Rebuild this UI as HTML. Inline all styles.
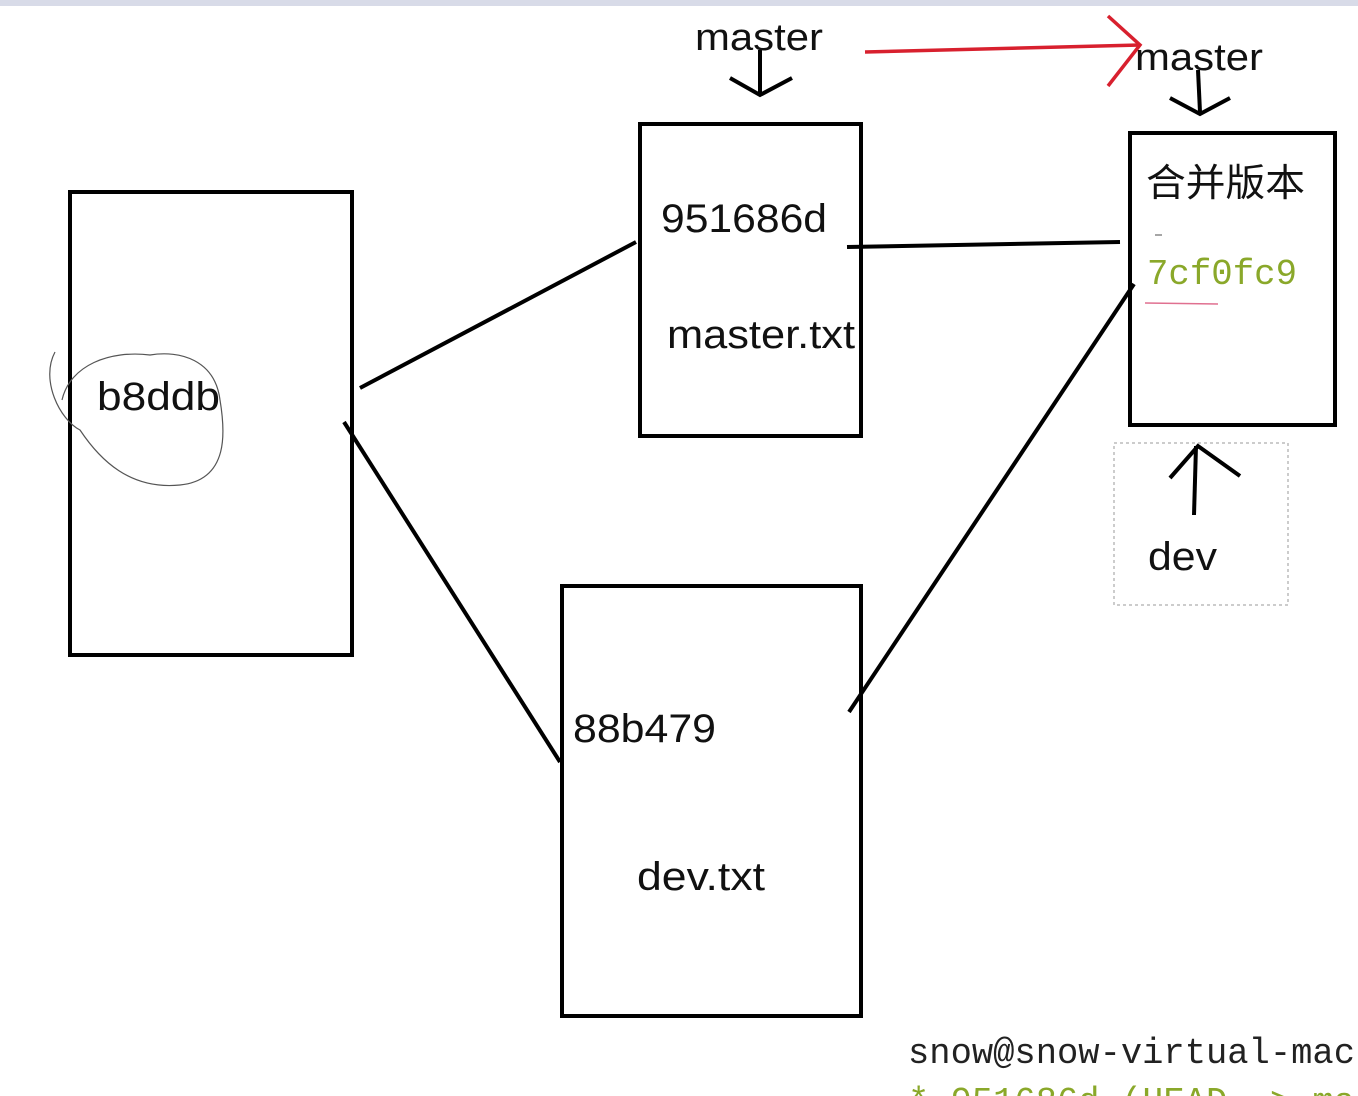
<!DOCTYPE html>
<html><head><meta charset="utf-8"><style>
html,body{margin:0;padding:0;background:#fff;width:1358px;height:1096px;overflow:hidden}
svg{display:block}
text{font-family:"Liberation Sans","Noto Sans CJK SC",sans-serif;fill:#111}
.m{font-family:"Liberation Mono","DejaVu Sans Mono",monospace}
</style></head><body>
<svg width="1358" height="1096" viewBox="0 0 1358 1096">
<rect x="0" y="0" width="1358" height="6" fill="#d8dbe8"/>
<g fill="none" stroke="#000" stroke-width="4">
<rect x="70" y="192" width="282" height="463"/>
<rect x="640" y="124" width="221" height="312"/>
<rect x="562" y="586" width="299" height="430"/>
<rect x="1130" y="133" width="205" height="292"/>
<line x1="360" y1="388" x2="636" y2="242"/>
<line x1="344" y1="422" x2="560" y2="762"/>
<line x1="847" y1="247" x2="1120" y2="242"/>
<line x1="849" y1="712" x2="1134" y2="284"/>
<line x1="760" y1="50" x2="760" y2="95"/>
<polyline points="730,78 760,95 792,78"/>
<line x1="1198" y1="70" x2="1200" y2="112"/>
<polyline points="1170,98 1200,114 1230,98"/>
<line x1="1194" y1="515" x2="1196" y2="446"/>
<polyline points="1170,478 1198,446 1240,476"/>
</g>
<g fill="none" stroke="#d8202e" stroke-width="3.5">
<line x1="865" y1="52" x2="1140" y2="45"/>
<polyline points="1108,16 1140,45 1108,86"/>
</g>
<path d="M55,352 C40,380 60,420 80,430 C100,460 130,490 180,485 C230,480 225,430 220,400 C215,360 180,350 150,355 C110,350 70,365 62,400" fill="none" stroke="#555" stroke-width="1.2"/>
<rect x="1114" y="443" width="174" height="162" fill="none" stroke="#999" stroke-width="1" stroke-dasharray="3,3"/>
<line x1="1145" y1="303" x2="1218" y2="304" stroke="#e07090" stroke-width="1.5"/>
<line x1="1155" y1="235" x2="1162" y2="235" stroke="#888" stroke-width="1.5"/>
<text x="695" y="50" font-size="38" textLength="128" lengthAdjust="spacingAndGlyphs">master</text>
<text x="1135" y="70" font-size="38" textLength="128" lengthAdjust="spacingAndGlyphs">master</text>
<text x="97" y="410" font-size="40" textLength="123" lengthAdjust="spacingAndGlyphs">b8ddb</text>
<text x="661" y="232" font-size="40" textLength="166" lengthAdjust="spacingAndGlyphs">951686d</text>
<text x="667" y="348" font-size="40" textLength="188" lengthAdjust="spacingAndGlyphs">master.txt</text>
<text x="573" y="742" font-size="40" textLength="143" lengthAdjust="spacingAndGlyphs">88b479</text>
<text x="637" y="890" font-size="40" textLength="128" lengthAdjust="spacingAndGlyphs">dev.txt</text>
<text x="1146" y="196" font-size="38" textLength="159" lengthAdjust="spacingAndGlyphs">合并版本</text>
<text x="1147" y="284" font-size="36" class="m" style="fill:#8aa82a" textLength="150" lengthAdjust="spacingAndGlyphs">7cf0fc9</text>
<text x="1148" y="570" font-size="40" textLength="69" lengthAdjust="spacingAndGlyphs">dev</text>
<text x="908" y="1063" font-size="36" class="m" style="fill:#222" textLength="447" lengthAdjust="spacingAndGlyphs">snow@snow-virtual-mac</text>
<text x="908" y="1112" font-size="36" class="m" style="fill:#8aa82a" textLength="447" lengthAdjust="spacingAndGlyphs">* 951686d (HEAD -&gt; ma</text>
</svg>
</body></html>
